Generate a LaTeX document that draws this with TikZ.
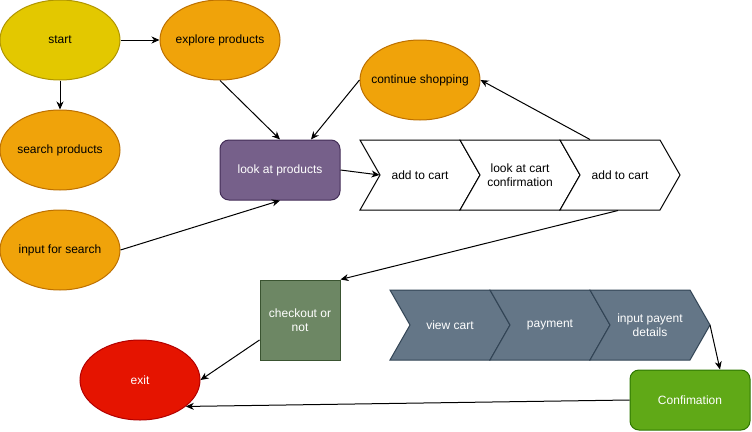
\documentclass[tikz,border=0pt]{standalone}
\usepackage{fontspec}
\setmainfont{Liberation Sans}
\usetikzlibrary{shapes.geometric,arrows.meta}
\definecolor{yelF}{HTML}{E3C800}\definecolor{yelS}{HTML}{B09500}
\definecolor{orF}{HTML}{F0A30A}\definecolor{orS}{HTML}{BD7000}
\definecolor{puF}{HTML}{76608A}\definecolor{puS}{HTML}{432D57}
\definecolor{slF}{HTML}{647687}\definecolor{slS}{HTML}{314354}
\definecolor{olF}{HTML}{6D8764}\definecolor{olS}{HTML}{3A5431}
\definecolor{reF}{HTML}{E51400}\definecolor{reS}{HTML}{B20000}
\definecolor{grF}{HTML}{60A917}\definecolor{grS}{HTML}{2D7600}
\newcommand\ovtxt[1]{\makebox[0pt]{#1}}
\tikzset{
  base/.style={font=\fontsize{12}{14.4}\selectfont, align=center, inner sep=0pt, line width=1pt},
  oval/.style={base, ellipse, minimum width=120pt, minimum height=80pt},
  yel/.style={oval, fill=yelF, draw=yelS},
  ora/.style={oval, fill=orF, draw=orS},
  redoval/.style={oval, fill=reF, draw=reS, text=white},
  purbox/.style={base, rectangle, rounded corners=9pt, minimum width=120pt, minimum height=60pt, fill=puF, draw=puS, text=white},
  grbox/.style={base, rectangle, rounded corners=9pt, minimum width=120pt, minimum height=60pt, fill=grF, draw=grS, text=white},
  olbox/.style={base, rectangle, minimum width=80pt, minimum height=80pt, fill=olF, draw=olS, text=white},
  chevtext/.style={base, rectangle, minimum width=80pt, minimum height=70pt},
  chevW/.style={line width=1pt, draw=black, fill=white},
  chevS/.style={line width=1pt, draw=slS, fill=slF},
  arr/.style={line width=1pt, -{Stealth[length=8pt,width=7pt,inset=2.5pt]}}
}
\begin{document}
\begin{tikzpicture}[x=1pt,y=-1pt]
\useasboundingbox (0,0) rectangle (752,431);
% chevron outlines row 1
\foreach \x in {360,460,560}{
  \path[chevW] (\x,140) -- (\x+100,140) -- (\x+120,175) -- (\x+100,210) -- (\x,210) -- (\x+20,175) -- cycle;
}
% chevron outlines row 2
\foreach \x in {390,490,590}{
  \path[chevS] (\x,290) -- (\x+100,290) -- (\x+120,325) -- (\x+100,360) -- (\x,360) -- (\x+20,325) -- cycle;
}
\node[yel] (start) at (60,40) {\ovtxt{start}};
\node[ora] (explore) at (220,40) {\ovtxt{explore products}};
\node[ora] (search) at (60,150) {\ovtxt{search products}};
\node[ora] (input) at (60,250) {\ovtxt{input for search}};
\node[ora] (cont) at (420,80) {\ovtxt{continue shopping}};
\node[purbox] (look) at (280,170) {look at products};
\node[chevtext] (c1) at (420,175) {add to cart};
\node[chevtext] (c2) at (520,175) {look at cart\\confirmation};
\node[chevtext] (c3) at (620,175) {add to cart};
\node[chevtext, text=white] (p1) at (450,325) {view cart};
\node[chevtext, text=white] (p2) at (550,325) {payment};
\node[chevtext, text=white] (p3) at (650,325) {input payent\\details};
\coordinate (p3tip) at (710,325);
\node[olbox] (check) at (300,320) {checkout or\\not};
\node[redoval] (exit) at (140,380) {\ovtxt{exit}};
\node[grbox] (conf) at (690,400) {Confimation};
% connectors
\draw[arr] (start.east) -- (explore.west);
\draw[arr] (start.south) -- (search.north);
\draw[arr] (explore.south) -- (look.north);
\draw[arr] (cont.west) -- ([xshift=31pt]look.north);
\draw[arr] (input.east) -- (look.south);
\draw[arr] (look.east) -- (c1.west);
\draw[arr] ([xshift=-30pt]c3.north) -- (cont.east);
\draw[arr] ([xshift=-2pt]c3.south) -- (check.north east);
\draw[arr] ([yshift=-20pt]check.west) -- (exit.east);
\draw[arr] (p3tip) -- ([xshift=30pt]conf.north);
\draw[arr] (conf.west) -- (exit.-30);
\end{tikzpicture}
\end{document}
